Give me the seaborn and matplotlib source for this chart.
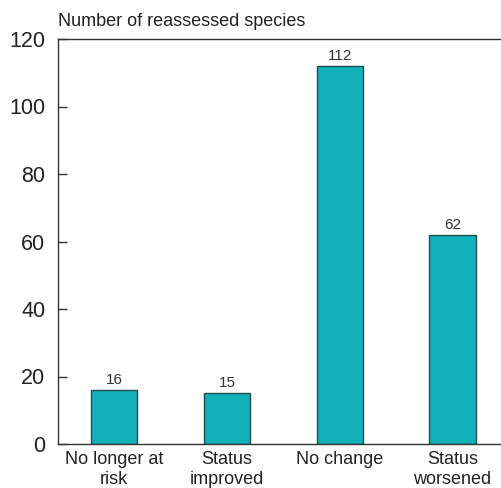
import matplotlib
matplotlib.use("Agg")
import matplotlib.pyplot as plt
import seaborn as sns
import pandas as pd

categories = ["No longer at\nrisk", "Status\nimproved", "No change", "Status\nworsened"]
values = [16, 15, 112, 62]
yticks = [0, 20, 40, 60, 80, 100, 120]

sns.set_theme(style="white")
plt.rcParams['font.family'] = ['Liberation Sans', 'DejaVu Sans']

fig = plt.figure(figsize=(5.01, 4.88), dpi=100)
ax = fig.add_axes([58/501, 1-444/488, 1-58/501, (444-39)/488])

df = pd.DataFrame({"cat": categories, "val": values})
sns.barplot(data=df, x="cat", y="val", ax=ax, color="#12b0b8", saturation=1,
            width=0.41, edgecolor="#1f4d52", linewidth=1.0)

for i, v in enumerate(values):
    ax.text(i, v + 0.9, str(v), ha="center", va="bottom", fontsize=11, color="#333333")

ax.set_ylim(0, 120)
ax.set_xlim(-0.5, 3.43)
ax.set_yticks(yticks)
ax.set_yticklabels([str(t) for t in yticks], fontsize=15.5, color="#222222")
ax.tick_params(axis="y", direction="in", length=6.5, width=1, color="#333333", pad=9, left=True)
ax.tick_params(axis="x", length=0, labelsize=13, labelcolor="#222222", pad=5)
ax.set_xlabel("")
ax.set_ylabel("")
for s in ["left", "bottom", "top"]:
    ax.spines[s].set_visible(True)
    ax.spines[s].set_color("#333333")
    ax.spines[s].set_linewidth(1.0)
ax.spines["right"].set_visible(False)

fig.text(58/501, 1-21/488, "Number of reassessed species", fontsize=13, color="#222222",
         ha="left", va="center")

fig.savefig("out.png", dpi=100)
